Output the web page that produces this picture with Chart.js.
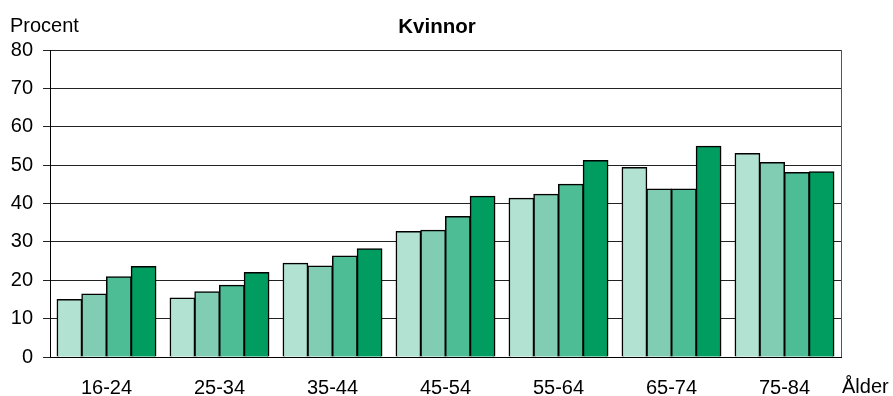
<!DOCTYPE html>
<html>
<head>
<meta charset="utf-8">
<script src="https://cdn.jsdelivr.net/npm/chart.js@4/dist/chart.umd.min.js"></script>
<style>
    html, body { margin: 0; padding: 0; background: #fff; }
    #wrap { width: 893px; height: 396px; }
</style>
</head>
<body>
<div id="wrap"><canvas id="myChart"></canvas></div>
<script>
let ageGroups = ['16-24', '25-34', '35-44', '45-54', '55-64', '65-74', '75-84']
let yTicks = [0, 10, 20, 30, 40, 50, 60, 70, 80]

let period1 = [15.0, 15.4, 24.4, 32.7, 41.4, 49.4, 53.0]
let period2 = [16.4, 17.0, 23.7, 33.0, 42.4, 43.8, 50.7]
let period3 = [20.9, 18.7, 26.3, 36.6, 45.0, 43.8, 48.1]
let period4 = [23.6, 22.0, 28.2, 41.9, 51.2, 54.9, 48.3]

let greens = ['#B2E2D2', '#80CDB3', '#4DBD95', '#009C60']
let font = 'Liberation Sans, Arial, sans-serif'

// titles and the right frame line are painted by hand
let labelsPlugin = {
    id: 'labels',
    afterDraw(chart) {
        let ctx = chart.ctx
        let area = chart.chartArea
        ctx.save()
        ctx.strokeStyle = '#555'
        ctx.lineWidth = 1
        ctx.beginPath()
        ctx.moveTo(area.right + 0.5, area.top)
        ctx.lineTo(area.right + 0.5, area.bottom)
        ctx.stroke()

        ctx.fillStyle = '#000'
        ctx.textBaseline = 'alphabetic'
        ctx.font = '20px ' + font
        ctx.textAlign = 'left'
        ctx.fillText('Procent', 10, 32)
        ctx.fillText('Ålder', 842, 393)

        ctx.font = 'bold 20.5px ' + font
        ctx.textAlign = 'center'
        ctx.fillText('Kvinnor', 437, 33)
        ctx.restore()
    }
}

let datasets = [period1, period2, period3, period4].map((values, i) => ({
    data: values,
    backgroundColor: greens[i],
    borderColor: '#000',
    borderWidth: 1.5,
    borderSkipped: 'bottom',
    inflateAmount: 0.5,
    barPercentage: 1,
    categoryPercentage: 0.875
}))

let ctx = document.getElementById('myChart').getContext('2d')
let chart = new Chart(ctx, {
    type: 'bar',
    data: {
        labels: ageGroups,
        datasets: datasets
    },
    options: {
        responsive: true,
        maintainAspectRatio: false,
        animation: { duration: 0 },
        layout: {
            padding: { top: 50, right: 52, bottom: 0, left: 0 }
        },
        plugins: {
            legend: { display: false },
            tooltip: { enabled: false }
        },
        scales: {
            x: {
                grid: { display: false },
                border: { display: true, color: '#000', width: 1 },
                ticks: {
                    color: '#000',
                    font: { family: font, size: 20 },
                    padding: 11
                },
                afterFit: s => { s.height = 39 }
            },
            y: {
                min: 0,
                max: 80,
                afterBuildTicks: s => { s.ticks = yTicks.map(v => ({ value: v })) },
                grid: {
                    color: '#222',
                    lineWidth: 1,
                    tickLength: 7
                },
                border: { display: true, color: '#000', width: 1 },
                ticks: {
                    color: '#000',
                    font: { family: font, size: 20 },
                    padding: 10
                },
                afterFit: s => { s.width = 50 }
            }
        }
    },
    plugins: [labelsPlugin]
})
</script>
</body>
</html>
